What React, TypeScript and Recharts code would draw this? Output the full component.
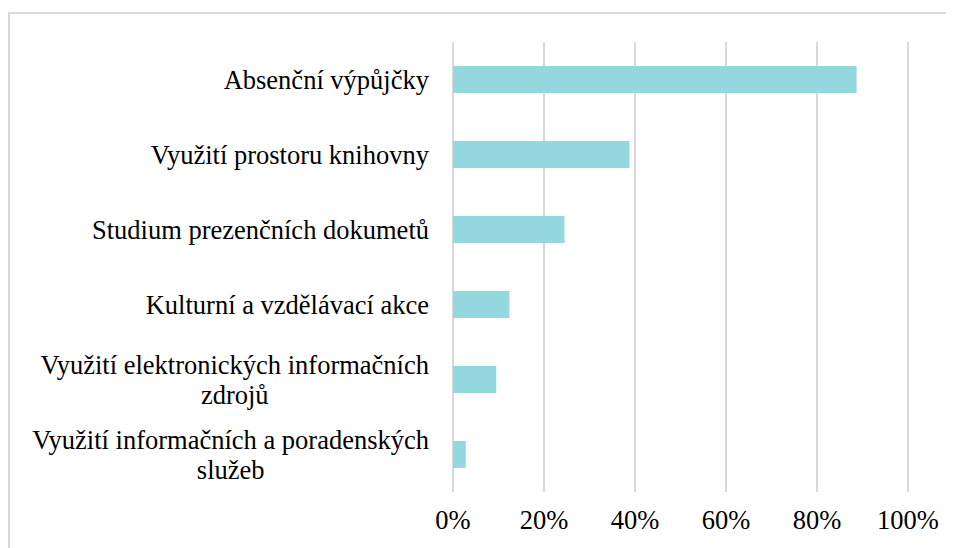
import React from "react";
import { BarChart, Bar, XAxis, YAxis, CartesianGrid } from "recharts";

const categories = [
  "Absenční výpůjčky",
  "Využití prostoru knihovny",
  "Studium prezenčních dokumetů",
  "Kulturní a vzdělávací akce",
  "Využití elektronických informačních zdrojů",
  "Využití informačních a poradenských služeb",
];
const values = [88.7, 38.8, 24.5, 12.4, 9.5, 2.8];
const xTicks = [0, 20, 40, 60, 80, 100];

const data = categories.map((name, i) => ({ name, value: values[i] }));

const FONT = "'Liberation Serif', monospace";
const FS = 26.5;
const LH = 30;
const WRAP = 420;

let ctx: CanvasRenderingContext2D | null = null;
function measure(t: string): number {
  if (!ctx && typeof document !== "undefined") {
    ctx = document.createElement("canvas").getContext("2d");
  }
  if (!ctx) return t.length * FS * 0.42;
  ctx.font = `${FS}px 'Liberation Serif', monospace`;
  return ctx.measureText(t).width;
}

function wrap(text: string, maxW: number): string[] {
  const words = text.split(" ");
  const lines: string[] = [];
  let cur = "";
  for (const w of words) {
    const test = cur ? cur + " " + w : w;
    if (cur && measure(test) > maxW) {
      lines.push(cur);
      cur = w;
    } else cur = test;
  }
  if (cur) lines.push(cur);
  return lines;
}

const YTick = (props: any) => {
  const { x, y, payload } = props;
  const lines = wrap(String(payload.value), WRAP);
  const right = x - 16;
  const blockW = Math.max(...lines.map(measure));
  const cx = right - blockW / 2;
  const y0 = y - ((lines.length - 1) * LH) / 2;
  return (
    <g>
      {lines.map((l, i) => (
        <text
          key={i}
          x={cx}
          y={y0 + i * LH}
          dy="0.35em"
          textAnchor="middle"
          fontFamily={FONT}
          fontSize={FS}
          fill="#000"
        >
          {l}
        </text>
      ))}
    </g>
  );
};

const XTick = (props: any) => {
  const { x, y, payload } = props;
  return (
    <text
      x={x}
      y={y + 20}
      dy="0.35em"
      textAnchor="middle"
      fontFamily={FONT}
      fontSize={FS}
      fill="#000"
    >
      {payload.value}%
    </text>
  );
};

export default function App() {
  return (
    <div style={{ position: "relative", width: 946, height: 540 }}>
      <div
        style={{
          position: "absolute",
          left: 0,
          top: 4,
          right: 0,
          bottom: 0,
          borderTop: "2px solid #d9d9d9",
          borderLeft: "2px solid #d9d9d9",
        }}
      />
      <div style={{ position: "absolute", left: 0, top: 0 }}>
        <BarChart
          width={946}
          height={540}
          data={data}
          layout="vertical"
          margin={{ top: 34, right: 46, bottom: 0, left: 0 }}
        >
          <CartesianGrid horizontal={false} stroke="#d9d9d9" strokeWidth={2} />
          <XAxis
            type="number"
            domain={[0, 100]}
            ticks={xTicks}
            height={56}
            axisLine={false}
            tickLine={false}
            tick={<XTick />}
            interval={0}
          />
          <YAxis
            type="category"
            dataKey="name"
            width={445}
            axisLine={false}
            tickLine={false}
            tick={<YTick />}
            interval={0}
          />
          <Bar dataKey="value" fill="#93D8DF" barSize={27} isAnimationActive={false} />
        </BarChart>
      </div>
    </div>
  );
}
